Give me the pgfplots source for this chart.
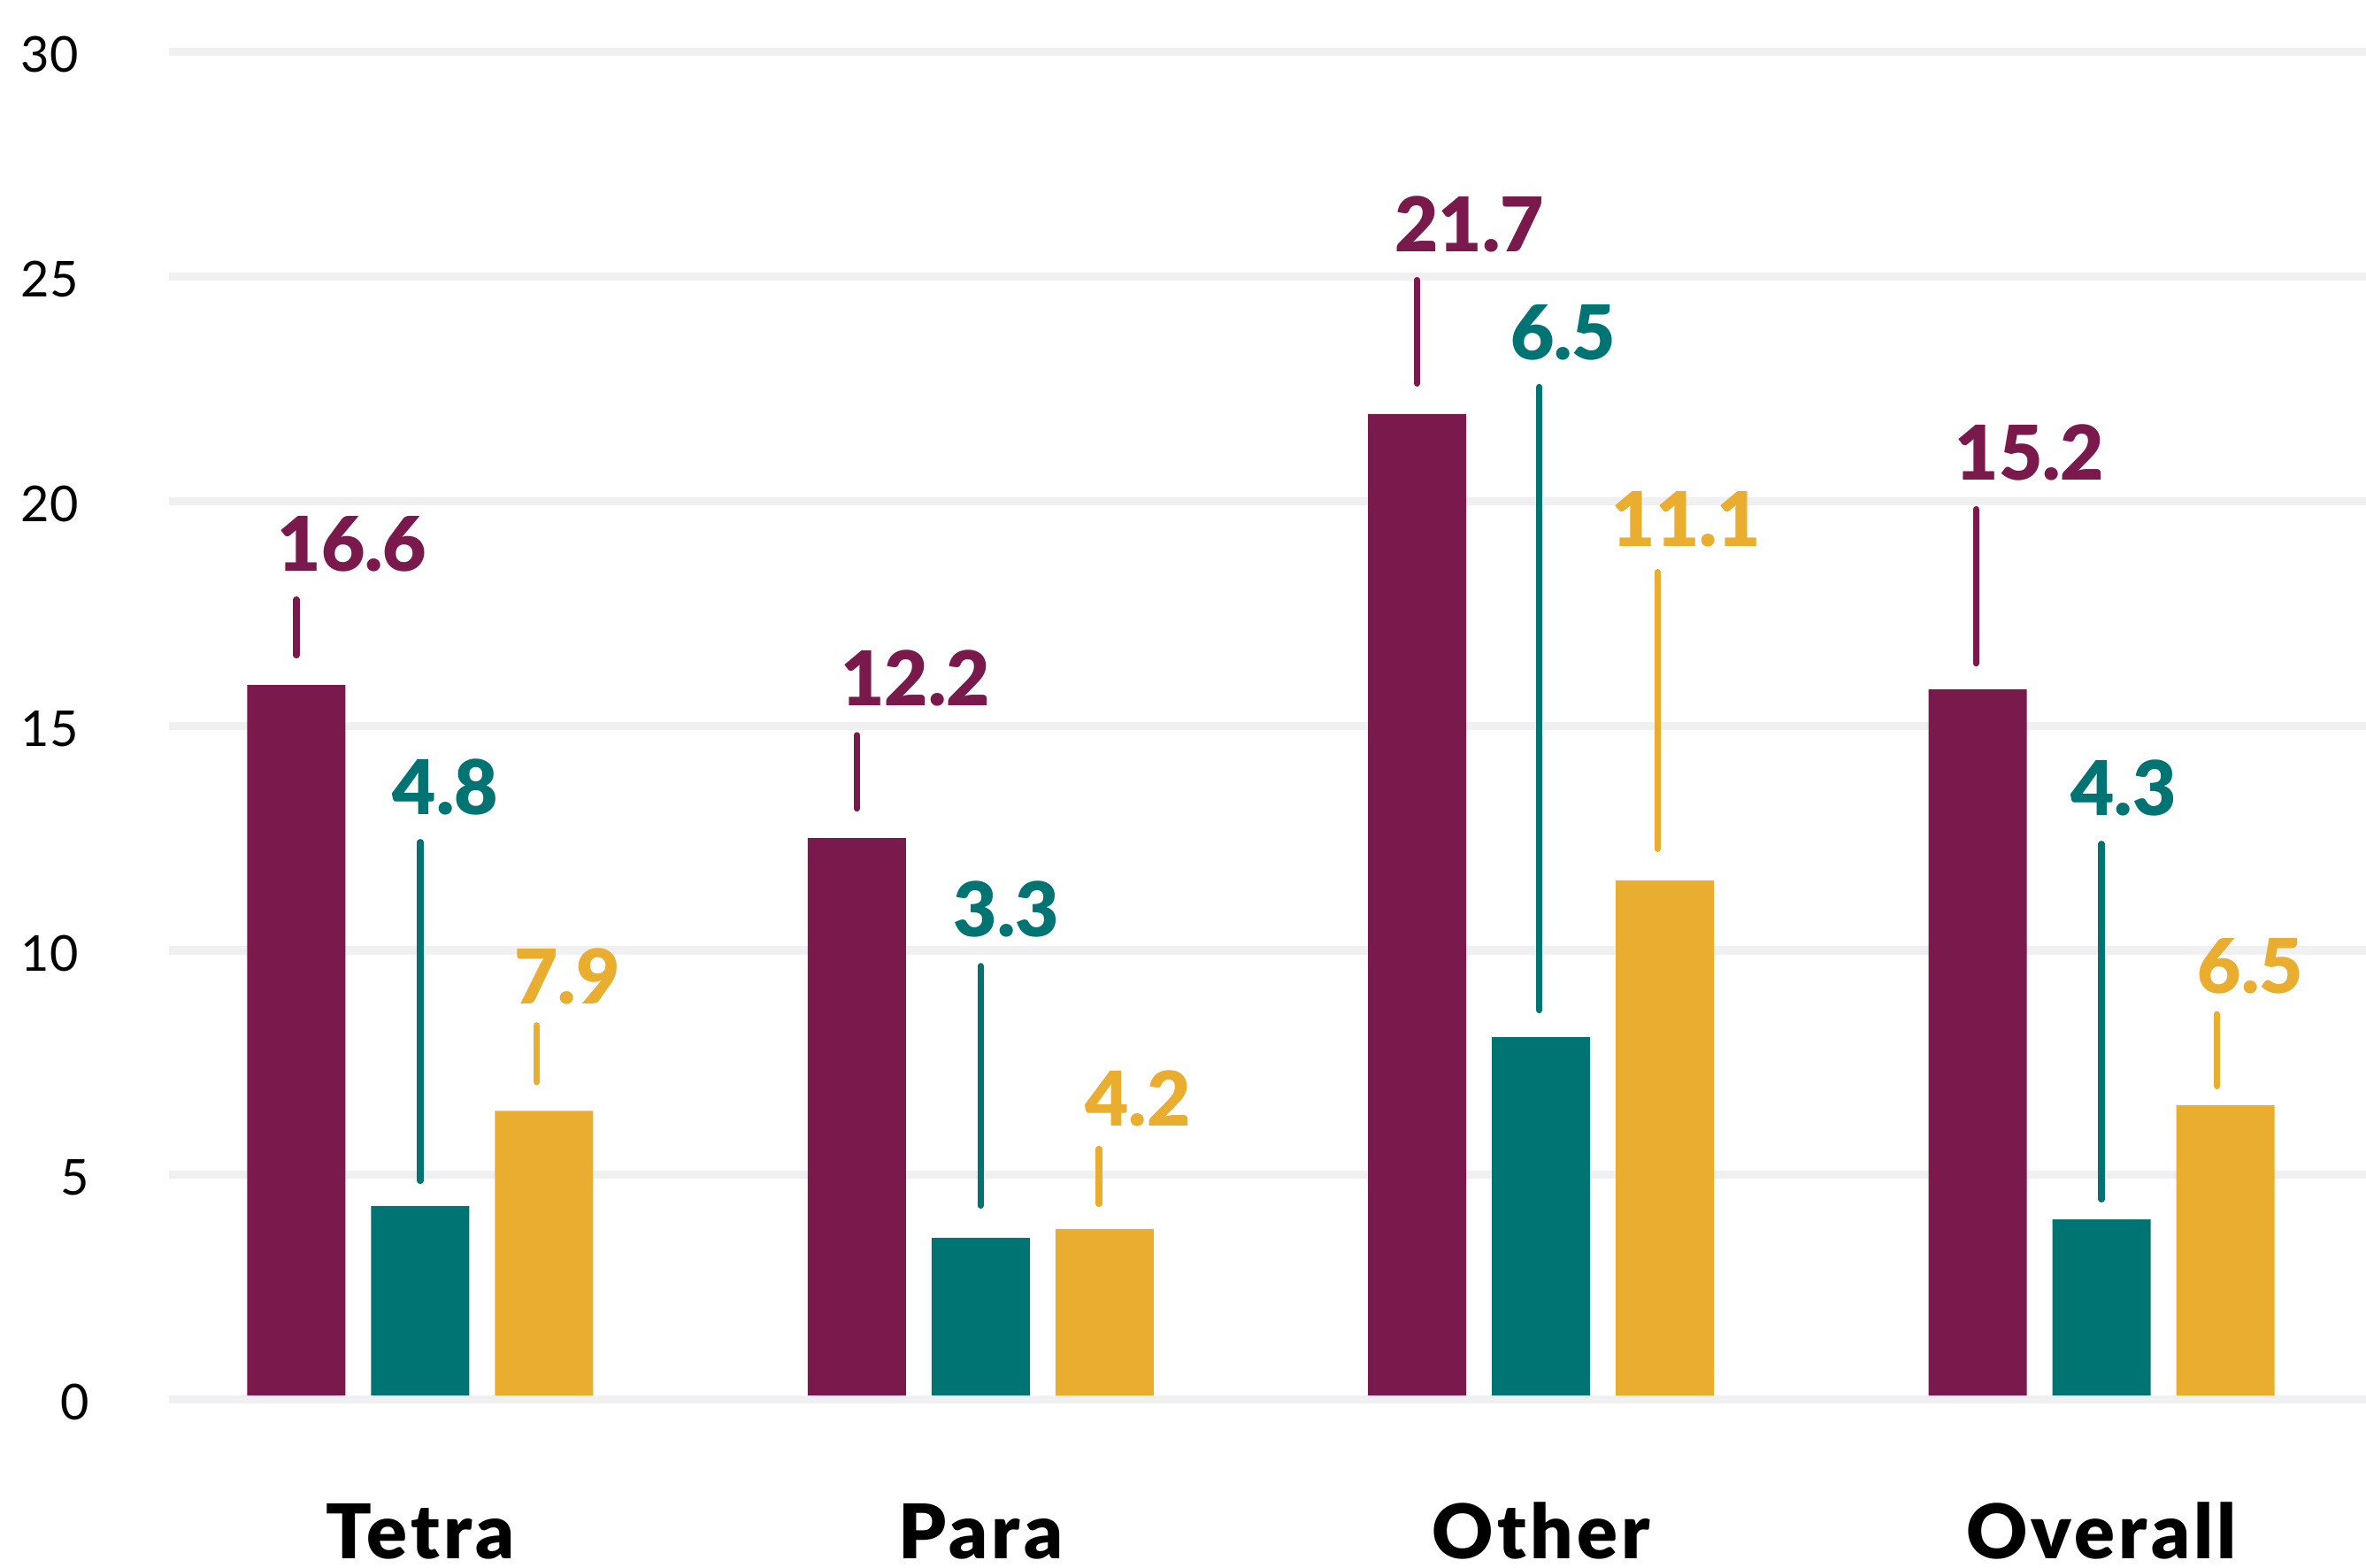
\documentclass[border=0pt]{standalone}
\usepackage{pgfplots}
\usepackage{pgfplotstable}
\pgfplotsset{compat=1.18}
\usepackage{fontspec}
\setmainfont{Lato}
\IfFontExistsTF{Lato Black}{%
  \newfontfamily\heavyfam{Lato Black}%
  \newfontfamily\catfam{Lato Black}[LetterSpace=5]}{%
  \newfontfamily\heavyfam{Lato}[UprightFont={* Bold}]%
  \newfontfamily\catfam{Lato}[UprightFont={* Bold},LetterSpace=5]}
\definecolor{cpurple}{HTML}{7A194B}
\definecolor{cteal}{HTML}{007473}
\definecolor{cyellow}{HTML}{E9AD2F}
\definecolor{cgrid}{HTML}{F0F0F2}
\newcommand\labfont{\heavyfam\fontsize{21.3pt}{24pt}\selectfont}
\newcommand\catfont{\catfam\fontsize{21.3pt}{24pt}\selectfont}
\newcommand\tickfont{\fontsize{13.96pt}{16pt}\selectfont}

% bar heights as drawn
\pgfplotstableread{
x y
0 15.91
1 12.50
2 21.94
3 15.81
}\purplebars
\pgfplotstableread{
x y
0 4.31
1 3.60
2 8.07
3 4.01
}\tealbars
\pgfplotstableread{
x y
0 6.43
1 3.80
2 11.56
3 6.55
}\yellowbars

% leader lines
\pgfplotstableread{
x y
-0.2211 17.81
-0.2211 16.57
nan nan
0.7789 14.79
0.7789 13.16
nan nan
1.7789 24.92
1.7789 22.62
nan nan
2.7760 19.82
2.7760 16.39
}\purplelines
\pgfplotstableread{
x y
0.0000 12.41
0.0000 4.87
nan nan
1.0000 9.65
1.0000 4.32
nan nan
1.9970 22.54
1.9970 8.67
nan nan
3.0000 12.37
3.0000 4.46
}\teallines
\pgfplotstableread{
x y
0.2076 8.33
0.2076 7.07
nan nan
1.2110 5.58
1.2110 4.36
nan nan
2.2076 18.42
2.2076 12.26
nan nan
3.2060 8.58
3.2060 6.98
}\yellowlines

% value labels (x centre, baseline)
\pgfplotstableread{
x y lab
-0.1216 18.45 16.6
0.8834 15.45 12.2
1.8719 25.56 21.7
2.8721 20.47 15.2
}\purplelabels
\pgfplotstableread{
x y lab
0.0450 13.03 4.8
1.0461 10.30 3.3
2.0395 23.14 6.5
3.0395 13.01 4.3
}\teallabels
\pgfplotstableread{
x y lab
0.2621 8.81 7.9
1.2805 6.10 4.2
2.2595 19.00 11.1
3.2661 9.05 6.5
}\yellowlabels

\begin{document}
\begin{tikzpicture}
\useasboundingbox (0,0) rectangle (668.5pt,442.75pt);
\begin{axis}[
  at={(47.75pt,47.325pt)}, anchor=south west,
  scale only axis, width=620.75pt, height=380.75pt,
  xmin=-0.4484, xmax=3.4721, ymin=0, ymax=30,
  clip=false,
  axis line style={draw=none},
  major tick length=0pt,
  ytick={0,5,10,15,20,25,30},
  yticklabels={\hspace*{11.25pt}0,\hspace*{11.25pt}5,10,15,20,25,30},
  xtick={0,1,2,3},
  xticklabels={Tetra,Para,Other,Overall},
  ymajorgrids,
  major grid style={cgrid, line width=2.3pt},
  xticklabel style={font=\catfont, text=black, anchor=base, yshift=-45pt, inner sep=0pt, text depth=0pt},
  yticklabel style={font=\tickfont, text=black, anchor=west, inner sep=0pt, xshift=-42pt, yshift=-0.75pt, text height=10pt, text depth=0pt},
  unbounded coords=jump,
]
\addplot[ybar, bar width=27.75pt, bar shift=-35pt, fill=cpurple, draw=none] table {\purplebars};
\addplot[ybar, bar width=27.75pt, bar shift=0pt, fill=cteal, draw=none] table {\tealbars};
\addplot[ybar, bar width=27.75pt, bar shift=35pt, fill=cyellow, draw=none] table {\yellowbars};

\addplot[cgrid, line width=2.3pt, forget plot] coordinates {(-0.4484,0) (3.4721,0)};

\addplot[cpurple, line width=1.8pt, line cap=round] table {\purplelines};
\addplot[cteal, line width=1.8pt, line cap=round] table {\teallines};
\addplot[cyellow, line width=1.8pt, line cap=round] table {\yellowlines};

\addplot[draw=none, nodes near coords, point meta=explicit symbolic,
  every node near coord/.append style={anchor=base, inner sep=0pt, font=\labfont, text=cpurple}]
  table[meta=lab] {\purplelabels};
\addplot[draw=none, nodes near coords, point meta=explicit symbolic,
  every node near coord/.append style={anchor=base, inner sep=0pt, font=\labfont, text=cteal}]
  table[meta=lab] {\teallabels};
\addplot[draw=none, nodes near coords, point meta=explicit symbolic,
  every node near coord/.append style={anchor=base, inner sep=0pt, font=\labfont, text=cyellow}]
  table[meta=lab] {\yellowlabels};
\end{axis}
\end{tikzpicture}
\end{document}
